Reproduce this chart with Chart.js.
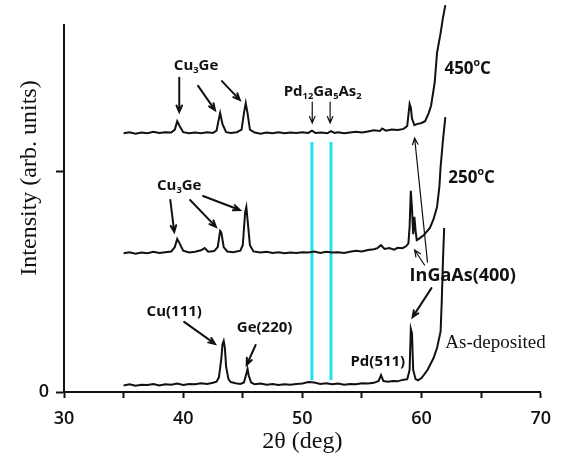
<!DOCTYPE html>
<html>
<head>
<meta charset="utf-8">
<script src="https://cdn.jsdelivr.net/npm/chart.js@4/dist/chart.umd.min.js"></script>
<style>
  html, body { margin: 0; padding: 0; background: #fff; }
  #wrap { width: 561px; height: 463px; }
</style>
</head>
<body>
<div id="wrap"><canvas id="xrdChart"></canvas></div>
<script>
// 2theta (deg) and intensity (arb. units, offset per trace)

const asDepTheta = [
  35.0, 35.5, 36.0, 36.5, 37.0, 37.5, 38.0, 38.5, 39.0, 39.5, 40.0, 40.5, 41.0, 41.5,
  42.0, 42.5, 42.8, 43.0, 43.2, 43.3, 43.4, 43.5, 43.6, 43.8, 44.0, 44.4, 44.8, 45.1,
  45.3, 45.4, 45.5, 45.7, 46.0, 46.5, 47.0, 47.5, 48.0, 48.5, 49.0, 49.5, 50.0, 50.5,
  51.0, 51.5, 52.0, 52.5, 53.0, 53.5, 54.0, 54.5, 55.0, 55.5, 56.0, 56.4, 56.6, 56.8,
  57.2, 57.6, 58.0, 58.4, 58.8, 59.0, 59.1, 59.2, 59.3, 59.5, 59.7, 60.0, 60.5, 61.0,
  61.3, 61.6, 61.7, 61.8, 61.9
];
const asDepCounts = [
  18, 21, 17, 20, 19, 22, 18, 21, 20, 23, 19, 22, 21, 24,
  22, 25, 28, 40, 90, 130, 139, 120, 70, 35, 27, 24, 22, 26,
  50, 63, 45, 26, 21, 23, 20, 22, 19, 21, 20, 22, 23, 27,
  26, 22, 24, 21, 23, 20, 22, 21, 24, 23, 25, 30, 46, 30,
  28, 30, 29, 33, 35, 60, 172, 160, 60, 35, 32, 38, 60, 92,
  120, 165, 250, 360, 447
];

const t250Theta = [
  35.0, 35.5, 36.0, 36.5, 37.0, 37.5, 38.0, 38.5, 39.0, 39.3, 39.5, 39.7, 40.0, 40.5,
  41.0, 41.5, 41.8, 42.1, 42.6, 42.9, 43.1, 43.2, 43.4, 43.7, 44.2, 44.8, 45.0, 45.2,
  45.3, 45.4, 45.6, 45.9, 46.5, 47.0, 47.5, 48.0, 48.5, 49.0, 49.5, 50.0, 50.5, 51.0,
  51.5, 52.0, 52.5, 53.0, 53.5, 54.0, 54.5, 55.0, 55.5, 56.0, 56.3, 56.6, 56.9, 57.3,
  57.7, 58.0, 58.4, 58.7, 58.9, 59.0, 59.1, 59.2, 59.3, 59.4, 59.5, 59.6, 59.8, 60.2,
  60.7, 61.0, 61.3, 61.5, 61.6, 61.8, 62.0
];
const t250Counts = [
  378, 381, 377, 380, 378, 382, 379, 381, 383, 395, 417, 405, 385, 380,
  382, 386, 392, 382, 384, 395, 439, 435, 395, 383, 381, 385, 400, 490,
  504, 470, 400, 383, 380, 382, 379, 381, 378, 380, 379, 381, 380, 383,
  379, 382, 380, 381, 379, 382, 385, 383, 387, 389, 392, 400, 390, 392,
  388, 393, 392, 397, 405, 450, 548, 500, 430, 477, 440, 414, 418, 428,
  447, 470, 504, 560, 613, 687, 749
];

const t450Theta = [
  35.0, 35.5, 36.0, 36.5, 37.0, 37.5, 38.0, 38.5, 39.0, 39.3, 39.5, 39.7, 40.0, 40.5,
  41.0, 41.5, 42.0, 42.5, 42.8, 43.0, 43.1, 43.3, 43.6, 44.0, 44.5, 44.9, 45.1, 45.25,
  45.4, 45.6, 46.0, 46.5, 47.0, 47.5, 48.0, 48.5, 49.0, 49.5, 50.0, 50.5, 50.8, 51.1,
  51.6, 52.1, 52.4, 52.7, 53.0, 53.5, 54.0, 54.5, 55.0, 55.5, 56.0, 56.5, 56.7, 57.0,
  57.5, 58.0, 58.5, 58.8, 59.0, 59.1, 59.2, 59.4, 59.6, 60.0, 60.3, 60.6, 60.8, 61.1,
  61.3, 61.6, 61.8, 62.0
];
const t450Counts = [
  705, 708, 704, 707, 705, 709, 706, 708, 707, 715, 738, 725, 708, 705,
  707, 705, 708, 706, 712, 745, 760, 730, 708, 706, 708, 715, 760, 787,
  760, 715, 707, 704, 707, 705, 708, 705, 707, 706, 708, 706, 712, 706,
  707, 705, 711, 706, 708, 705, 707, 709, 707, 710, 713, 711, 718, 712,
  715, 714, 717, 725, 785, 775, 745, 727, 730, 733, 738, 760, 780, 842,
  924, 978, 1020, 1054
];

// Pd12Ga5As2 reference lines
const refLineTheta = [50.8, 52.4];
const refLineSpan = [33, 681];

const xTickValues = [30, 40, 50, 60, 70];

// labels and arrows, anchored in data coordinates
const labels = [
  { parts: [['Cu'], ['3', 'sub'], ['Ge']], at: [41.08, 888], size: 15, align: 'center' },
  { parts: [['Cu'], ['3', 'sub'], ['Ge']], at: [39.67, 561], size: 15, align: 'center' },
  { parts: [['Pd'], ['12', 'sub'], ['Ga'], ['5', 'sub'], ['As'], ['2', 'sub']], at: [51.7, 817], size: 15, align: 'center' },
  { parts: [['450'], ['o', 'sup'], ['C']], at: [61.92, 880], size: 17, align: 'left' },
  { parts: [['250'], ['o', 'sup'], ['C']], at: [62.25, 583], size: 17, align: 'left' },
  { parts: [['InGaAs(400)']], at: [59.0, 316], size: 18, align: 'left' },
  { parts: [['Cu(111)']], at: [39.25, 218], size: 15, align: 'center' },
  { parts: [['Ge(220)']], at: [46.83, 174], size: 15, align: 'center' },
  { parts: [['Pd(511)']], at: [56.33, 82], size: 15, align: 'center' },
  { parts: [['As-deposited']], at: [62.0, 134], size: 19, align: 'left', serif: true }
];

const arrows = [
  { from: [39.67, 856], to: [39.67, 763], w: 2 },
  { from: [41.25, 834], to: [42.67, 768], w: 2 },
  { from: [43.25, 847], to: [44.75, 796], w: 2 },
  { from: [38.92, 523], to: [39.25, 436], w: 2 },
  { from: [40.58, 523], to: [42.75, 450], w: 2 },
  { from: [41.67, 534], to: [44.75, 496], w: 2 },
  { from: [50.83, 790], to: [50.83, 733], w: 1.2 },
  { from: [52.33, 790], to: [52.33, 733], w: 1.2 },
  { from: [60.5, 354], to: [59.42, 692], w: 1.2 },
  { from: [60.25, 346], to: [59.42, 387], w: 1.2 },
  { from: [60.83, 283], to: [59.25, 204], w: 2 },
  { from: [40.08, 191], to: [42.67, 131], w: 2 },
  { from: [46.08, 128], to: [45.33, 74], w: 2 }
];

function toPoints(xs, ys) {
  return xs.map((v, i) => ({ x: v, y: ys[i] }));
}

const SANS = '"Open Sans", "DejaVu Sans", sans-serif';
const SERIF = '"Liberation Serif", "DejaVu Serif", serif';

function segFont(size, kind, serif) {
  const s = kind ? size * 0.62 : size;
  return (serif ? '' : 'bold ') + s.toFixed(1) + 'px ' + (serif ? SERIF : SANS);
}

function drawRich(ctx, lab, px, py) {
  let total = 0;
  lab.parts.forEach(p => {
    ctx.font = segFont(lab.size, p[1], lab.serif);
    total += ctx.measureText(p[0]).width;
  });
  let cx = lab.align === 'center' ? px - total / 2 : px;
  ctx.textAlign = 'left';
  ctx.textBaseline = 'middle';
  lab.parts.forEach(p => {
    ctx.font = segFont(lab.size, p[1], lab.serif);
    let dy = 0;
    if (p[1] === 'sub') dy = lab.size * 0.3;
    if (p[1] === 'sup') dy = -lab.size * 0.38;
    ctx.fillText(p[0], cx, py + dy);
    cx += ctx.measureText(p[0]).width;
  });
}

function drawArrow(ctx, x1, y1, x2, y2, w) {
  const ang = Math.atan2(y2 - y1, x2 - x1);
  const head = 7;
  ctx.lineWidth = w;
  ctx.beginPath();
  ctx.moveTo(x1, y1);
  ctx.lineTo(x2, y2);
  ctx.moveTo(x2 - head * Math.cos(ang - 0.4), y2 - head * Math.sin(ang - 0.4));
  ctx.lineTo(x2, y2);
  ctx.lineTo(x2 - head * Math.cos(ang + 0.4), y2 - head * Math.sin(ang + 0.4));
  ctx.stroke();
}

const labelPlugin = {
  id: 'xrdLabels',
  afterDatasetsDraw(chart) {
    const { ctx, scales: { x, y } } = chart;
    ctx.save();
    ctx.strokeStyle = '#111';
    ctx.fillStyle = '#111';
    ctx.lineCap = 'round';
    arrows.forEach(a => {
      drawArrow(ctx,
        x.getPixelForValue(a.from[0]), y.getPixelForValue(a.from[1]),
        x.getPixelForValue(a.to[0]), y.getPixelForValue(a.to[1]), a.w);
    });
    labels.forEach(l => {
      drawRich(ctx, l, x.getPixelForValue(l.at[0]), y.getPixelForValue(l.at[1]));
    });
    // y axis title, sits a bit above the axis middle in the original
    ctx.translate(30, 178);
    ctx.rotate(-Math.PI / 2);
    ctx.font = '24px ' + SERIF;
    ctx.textAlign = 'center';
    ctx.textBaseline = 'middle';
    ctx.fillText('Intensity (arb. units)', 0, 0);
    ctx.restore();
  }
};

const traceStyle = {
  borderColor: '#111',
  borderWidth: 2,
  pointRadius: 0,
  tension: 0,
  fill: false,
  order: 1,
  clip: false
};

const datasets = [
  { label: 'As-deposited', data: toPoints(asDepTheta, asDepCounts), ...traceStyle },
  { label: '250C', data: toPoints(t250Theta, t250Counts), ...traceStyle },
  { label: '450C', data: toPoints(t450Theta, t450Counts), ...traceStyle }
];
refLineTheta.forEach(t => {
  datasets.push({
    label: 'ref ' + t,
    data: refLineSpan.map(v => ({ x: t, y: v })),
    borderColor: '#1ee3ee',
    borderWidth: 3,
    pointRadius: 0,
    order: 2
  });
});

document.addEventListener('DOMContentLoaded', function() {
  const ctx = document.getElementById('xrdChart').getContext('2d');
  new Chart(ctx, {
    type: 'line',
    data: { datasets: datasets },
    options: {
      responsive: true,
      maintainAspectRatio: false,
      animation: false,
      layout: { padding: { top: 25, right: 18, left: 0, bottom: 0 } },
      plugins: { legend: { display: false }, tooltip: { enabled: false } },
      scales: {
        x: {
          type: 'linear',
          min: 30,
          max: 70,
          afterFit: s => { s.height = 71; },
          afterBuildTicks: s => {
            s.ticks = [];
            for (let v = 30; v <= 70; v += 5) s.ticks.push({ value: v });
          },
          border: { display: true, color: '#111', width: 2 },
          grid: { drawOnChartArea: false, drawTicks: true, tickLength: 6, tickColor: '#111', tickWidth: 2 },
          ticks: {
            autoSkip: false,
            maxRotation: 0,
            padding: 10,
            color: '#111',
            font: { family: SANS, size: 18, weight: '600' },
            callback: v => xTickValues.includes(v) ? String(v) : ''
          },
          title: {
            display: true,
            text: '2θ (deg)',
            color: '#111',
            font: { family: SERIF, size: 24 },
            padding: { top: 0, bottom: 7 }
          }
        },
        y: {
          min: 0,
          max: 1000,
          afterFit: s => { s.width = 64; },
          afterBuildTicks: s => { s.ticks = [{ value: 0 }, { value: 600 }]; },
          border: { display: true, color: '#111', width: 2 },
          grid: { drawOnChartArea: false, drawTicks: true, tickLength: 8, tickColor: '#111', tickWidth: 2 },
          ticks: {
            padding: 7,
            color: '#111',
            font: { family: SANS, size: 18, weight: '600' },
            callback: v => v === 0 ? '0' : ''
          }
        }
      }
    },
    plugins: [labelPlugin]
  });
});
</script>
</body>
</html>
